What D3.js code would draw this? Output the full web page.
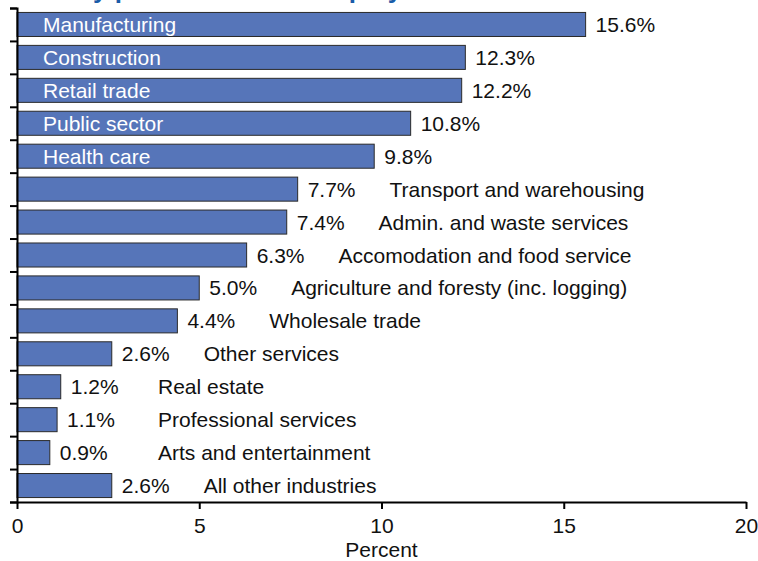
<!DOCTYPE html>
<html>
<head>
<meta charset="utf-8">
<script src="https://cdn.jsdelivr.net/npm/d3@7"></script>
<style>
  body { margin: 0; background: #fff; }
  svg { display: block; font-family: "Liberation Sans", Arial, sans-serif; }
</style>
</head>
<body>
<div id="chart"></div>
<script>
// industries, top to bottom
const industries = [
  "Manufacturing", "Construction", "Retail trade", "Public sector", "Health care",
  "Transport and warehousing", "Admin. and waste services", "Accomodation and food service",
  "Agriculture and foresty (inc. logging)", "Wholesale trade", "Other services",
  "Real estate", "Professional services", "Arts and entertainment", "All other industries"
];
const shares = [15.6, 12.3, 12.2, 10.8, 9.8, 7.7, 7.4, 6.3, 5.0, 4.4, 2.6, 1.2, 1.1, 0.9, 2.6];
const xTicks = [0, 5, 10, 15, 20];
const insideMin = 9; // bars at least this long carry their name inside

const width = 758, height = 561;
const plotLeft = 17, plotRight = 746, plotTop = 8, plotBottom = 502;
const fontSize = 21;

const data = industries.map((name, i) => ({ name: name, value: shares[i] }));

const svg = d3.select("#chart").append("svg")
  .attr("width", width)
  .attr("height", height)
  .attr("viewBox", `0 0 ${width} ${height}`);

// title is cropped off in the original, only its descenders peek in
svg.append("text")
  .attr("x", 5)
  .attr("y", -2)
  .attr("fill", "#1a5ca8")
  .style("font-weight", "bold")
  .style("font-size", "26px")
  .text("Industry profile of the unemployed");

const xScale = d3.scaleLinear().domain([0, 20]).range([plotLeft, plotRight]);
const yScale = d3.scaleBand()
  .domain(industries)
  .range([plotTop, plotBottom])
  .paddingInner(0.27)
  .paddingOuter(0.135);
// boundaries between bars, for the left ticks
const yEdge = d3.scaleLinear().domain([0, industries.length]).range([plotTop, plotBottom]);

// bars
const row = svg.append("g")
  .selectAll("g")
  .data(data)
  .join("g")
  .attr("transform", (d) => `translate(0, ${yScale(d.name)})`);

row.append("rect")
  .attr("x", xScale(0))
  .attr("y", 0)
  .attr("width", (d) => xScale(d.value) - xScale(0))
  .attr("height", yScale.bandwidth())
  .attr("fill", "#5675b9")
  .attr("stroke", "#2a2a2a")
  .attr("stroke-width", 1);

// value labels
row.append("text")
  .attr("class", "val")
  .attr("x", (d) => xScale(d.value) + 10)
  .attr("y", yScale.bandwidth() / 2)
  .attr("dy", "0.36em")
  .style("font-size", fontSize + "px")
  .attr("fill", "#111")
  .text((d) => d.value.toFixed(1) + "%");

// names inside the long bars
row.filter((d) => d.value >= insideMin)
  .append("text")
  .attr("x", xScale(0) + 26)
  .attr("y", yScale.bandwidth() / 2)
  .attr("dy", "0.36em")
  .style("font-size", fontSize + "px")
  .attr("fill", "#fff")
  .text((d) => d.name);

// names after the value for the short ones
row.filter((d) => d.value < insideMin)
  .each(function (d) {
    const g = d3.select(this);
    const vEnd = g.select("text.val").node().getComputedTextLength() + xScale(d.value) + 10;
    g.append("text")
      .attr("x", Math.max(vEnd + 34, 158))
      .attr("y", yScale.bandwidth() / 2)
      .attr("dy", "0.36em")
      .style("font-size", fontSize + "px")
      .attr("fill", "#111")
      .text(d.name);
  });

// y axis (ticks between bars)
const yAxis = svg.append("g")
  .attr("transform", `translate(${plotLeft},0)`)
  .call(d3.axisLeft(yEdge).tickValues(d3.range(0, industries.length + 1)).tickSize(7).tickFormat(""));
yAxis.select(".domain").attr("stroke", "#000").attr("stroke-width", 2);
yAxis.selectAll(".tick line").attr("stroke", "#000").attr("stroke-width", 2);

// x axis
const xAxis = svg.append("g")
  .attr("transform", `translate(0,${plotBottom})`)
  .call(d3.axisBottom(xScale).tickValues(xTicks).tickSize(7).tickPadding(9).tickSizeOuter(0));
xAxis.select(".domain").attr("stroke", "#000").attr("stroke-width", 2);
xAxis.selectAll(".tick line").attr("stroke", "#000").attr("stroke-width", 2);
xAxis.selectAll(".tick text")
  .style("font-size", fontSize + "px")
  .style("font-family", '"Liberation Sans", Arial, sans-serif')
  .attr("fill", "#111");

svg.append("text")
  .attr("x", xScale(10))
  .attr("y", 557)
  .attr("text-anchor", "middle")
  .style("font-size", fontSize + "px")
  .attr("fill", "#111")
  .text("Percent");
</script>
</body>
</html>
